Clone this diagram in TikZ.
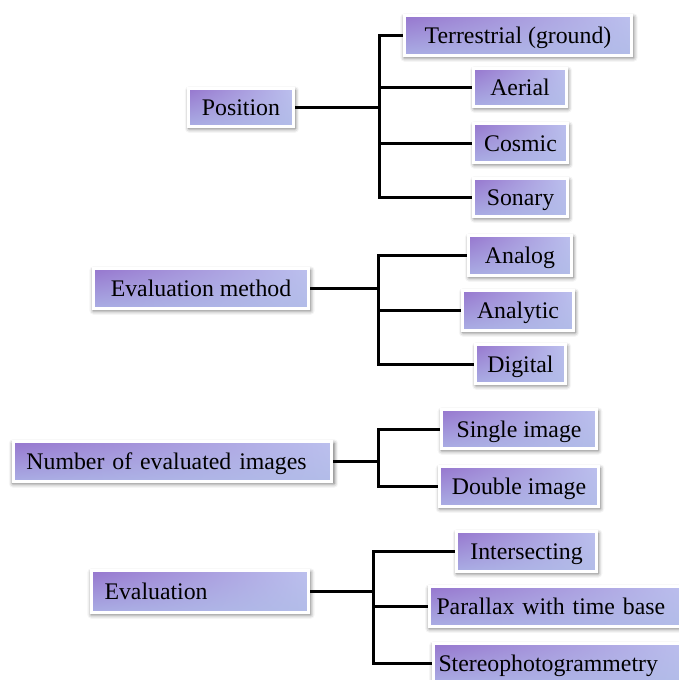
\documentclass[tikz,border=0pt]{standalone}
\usepackage{fontspec}
\setmainfont{Liberation Serif}
\newfontfamily\boxfont{Liberation Serif}
\usetikzlibrary{shadings,shadows.blur}
\definecolor{cul}{RGB}{150,118,206}
\definecolor{cur}{RGB}{188,192,238}
\definecolor{cll}{RGB}{170,174,228}
\definecolor{clr}{RGB}{178,188,232}
\definecolor{bev}{RGB}{128,136,196}
\tikzset{
  bx/.style={draw=white, line width=3pt, inner sep=0pt,
    upper left=cul, upper right=cur, lower left=cll, lower right=clr,
    font=\boxfont\fontsize{23.8}{28}\selectfont, text height=16.5pt, text depth=0pt,
    blur shadow={shadow xshift=1pt, shadow yshift=-2pt, shadow blur radius=4pt, shadow opacity=60, shadow scale=1.01},
    path picture={\draw[bev, line width=4pt]
      (path picture bounding box.south west) -- (path picture bounding box.south east)
      -- (path picture bounding box.north east);}},
  bxl/.style={bx, align=left},
  conn/.style={line width=3pt, black, line join=miter}
}
\begin{document}
\begin{tikzpicture}[x=1pt,y=-1pt]
\useasboundingbox (0,0) rectangle (679,680);
% group 1
\node[bx, minimum width=105, minimum height=38] (pos) at (241,107.5) {Position};
\node[bx, minimum width=227, minimum height=40] (terr) at (518,35.5) {Terrestrial (ground)};
\node[bx, minimum width=93, minimum height=38] (aer) at (520,87.5) {Aerial};
\node[bx, minimum width=94, minimum height=39] (cos) at (520.5,143) {Cosmic};
\node[bx, minimum width=94, minimum height=38] (son) at (520.5,197.5) {Sonary};
\coordinate (t1) at (379,0);
\draw[conn] (pos.east) -| (t1 |- terr.west) -- (terr.west);
\draw[conn] (pos.east) -| (t1 |- aer.west) -- (aer.west);
\draw[conn] (pos.east) -| (t1 |- cos.west) -- (cos.west);
\draw[conn] (pos.east) -| (t1 |- son.west) -- (son.west);
% group 2
\node[bx, minimum width=215, minimum height=40] (evm) at (201,288.5) {Evaluation method};
\node[bx, minimum width=103, minimum height=40] (ana) at (520,255.5) {Analog};
\node[bx, minimum width=111, minimum height=40] (anl) at (518,310.5) {Analytic};
\node[bx, minimum width=90, minimum height=39] (dig) at (520.5,364) {Digital};
\coordinate (t2) at (378,0);
\draw[conn] (evm.east) -| (t2 |- ana.west) -- (ana.west);
\draw[conn] (evm.east) -| (t2 |- anl.west) -- (anl.west);
\draw[conn] (evm.east) -| (t2 |- dig.west) -- (dig.west);
% group 3
\node[bxl, minimum width=318, minimum height=40, text width=292] (num) at (172.5,461.5) {Number of evaluated images};
\node[bx, minimum width=155, minimum height=39] (sin) at (519,429) {Single image};
\node[bx, minimum width=159, minimum height=40] (dou) at (519,486.5) {Double image};
\coordinate (t3) at (378,0);
\draw[conn] (num.east) -| (t3 |- sin.west) -- (sin.west);
\draw[conn] (num.east) -| (t3 |- dou.west) -- (dou.west);
% group 4
\node[bxl, minimum width=217, minimum height=42, text width=191] (eva) at (200,591.5) {Evaluation};
\node[bx, minimum width=140, minimum height=40] (int) at (526.5,551.5) {Intersecting};
\node[bx, minimum width=259, minimum height=40, text width=245, align=left] (par) at (559,606.5) {Parallax with time base};
\node[bx, minimum width=255, minimum height=40, text width=245, align=left] (ste) at (561,663.5) {Stereophotogrammetry};
\coordinate (t4) at (373,0);
\draw[conn] (eva.east) -| (t4 |- int.west) -- (int.west);
\draw[conn] (eva.east) -| (t4 |- par.west) -- (par.west);
\draw[conn] (eva.east) -| (t4 |- ste.west) -- (ste.west);
\end{tikzpicture}
\end{document}
